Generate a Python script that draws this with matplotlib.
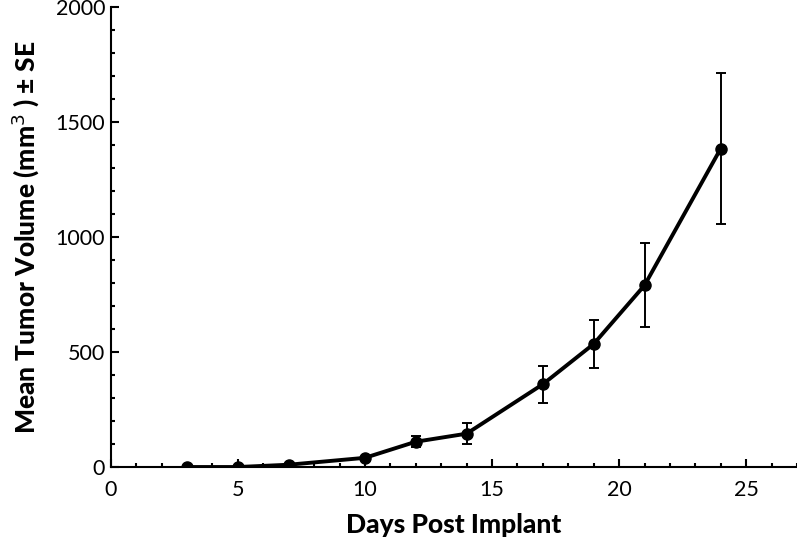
import matplotlib
matplotlib.use('Agg')
import matplotlib.pyplot as plt
from matplotlib.ticker import MultipleLocator

# Tumor growth data
days = [3, 5, 7, 10, 12, 14, 17, 19, 21, 24]
volume = [0, 0, 10, 40, 110, 145, 360, 535, 790, 1385]
se = [0, 0, 0, 0, 25, 45, 80, 103, 183, 328]

plt.rcParams['font.family'] = ['Lato', 'DejaVu Sans']

fig = plt.figure(figsize=(7.97, 5.44), dpi=100)
ax = fig.add_axes([0.139, 0.1415, 0.861, 0.8455])

ax.errorbar(days, volume, yerr=se, color='black', lw=2.8, marker='o', ms=8,
            ecolor='black', elinewidth=1.4, capsize=3.8, capthick=1.4)

ax.set_xlim(0, 27)
ax.set_ylim(0, 2000)
ax.xaxis.set_major_locator(MultipleLocator(5))
ax.xaxis.set_minor_locator(MultipleLocator(1))
ax.yaxis.set_major_locator(MultipleLocator(500))
ax.yaxis.set_minor_locator(MultipleLocator(100))
ax.tick_params(which='both', direction='in', width=1.5, labelsize=15.5)
ax.tick_params(which='major', length=6)
ax.tick_params(which='minor', length=3)
ax.tick_params(axis='x', pad=9)
ax.tick_params(axis='y', pad=4)

for s in ['top', 'right']:
    ax.spines[s].set_visible(False)
for s in ['left', 'bottom']:
    ax.spines[s].set_linewidth(1.5)

ax.set_xlabel('Days Post Implant', fontsize=19, fontweight='black', labelpad=10)
ax.set_ylabel('Mean Tumor Volume (mm$^{3}$ ) \u00b1 SE', fontsize=19, fontweight='black', labelpad=10)

fig.savefig('out.png', dpi=100)
